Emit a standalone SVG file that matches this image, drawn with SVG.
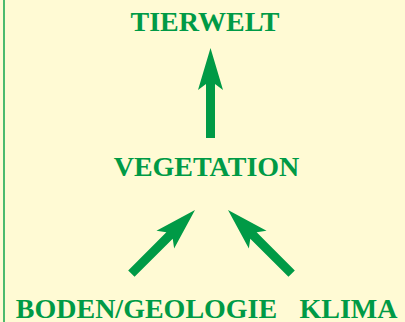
<svg xmlns="http://www.w3.org/2000/svg" xmlns:xlink="http://www.w3.org/1999/xlink" width="405" height="322" viewBox="0 0 405 322">
<style>
.lbl{font-family:"Liberation Serif","Times New Roman",serif;font-weight:bold;font-size:28px;fill:#009a46;text-anchor:middle}
.arr{fill:#009a46}
</style>
<defs>
<polygon id="arrow" class="arr" points="0,0 12.5,42 4.5,36 4.5,90 -4.5,90 -4.5,36 -12.5,42"/>
</defs>
<rect x="0" y="0" width="405" height="322" fill="#fffad4"/>
<line x1="4" y1="0" x2="4" y2="322" stroke="#4cba6e" stroke-width="2"/>
<g id="tierwelt"><text class="lbl" x="205" y="31">TIERWELT</text></g>
<g id="vegetation"><text class="lbl" x="206.5" y="176">VEGETATION</text></g>
<g id="boden"><text class="lbl" x="146.5" y="318">BODEN/GEOLOGIE</text></g>
<g id="klima"><text class="lbl" x="348.5" y="318">KLIMA</text></g>
<g id="connectors">
<use xlink:href="#arrow" href="#arrow" transform="translate(210.5,48)"/>
<use xlink:href="#arrow" href="#arrow" transform="translate(195,210) rotate(45)"/>
<use xlink:href="#arrow" href="#arrow" transform="translate(228,210) rotate(-45)"/>
</g>
</svg>
